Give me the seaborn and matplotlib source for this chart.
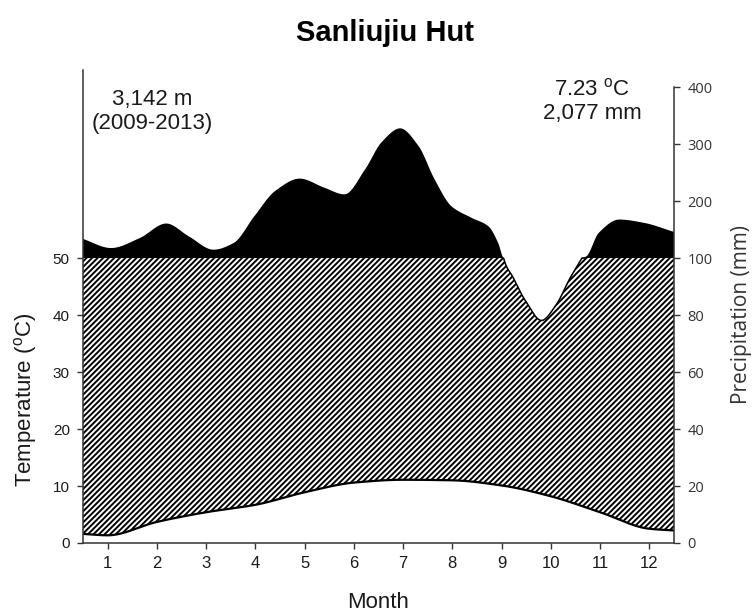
import numpy as np
import matplotlib
matplotlib.use("Agg")
import matplotlib.pyplot as plt
import seaborn as sns

# ---------------- data ----------------
title = "Sanliujiu Hut"
station_lines = ["3,142 m", "(2009-2013)"]
summary_lines = ["7.23 $^{\\mathrm{o}}$C", "2,077 mm"]
months = list(range(1, 13))
month_labels = [str(m) for m in months]

# temperature (deg C)
temp_x = [0.5, 1, 2, 3, 4, 5, 6, 7, 8, 9, 10, 11, 12, 12.5]
temp_c = [1.6, 1.35, 3.7, 5.4, 6.7, 8.9, 10.6, 11.1, 11.0, 10.1, 8.2, 5.4, 2.5, 2.2]

# precipitation (mm)
precip_x = [0.5, 1.07, 1.65, 2.19, 2.65, 3.15, 3.56, 3.98, 4.4, 4.9, 5.4, 5.81,
            6.23, 6.56, 6.94, 7.31, 7.64, 7.98, 8.39, 8.73, 8.93, 9.04, 9.23,
            9.48, 9.81, 10.1, 10.4, 10.63, 10.72, 10.97, 11.39, 11.89, 12.5]
precip_mm = [133.5, 117.6, 135, 160.6, 138, 114.7, 126.5, 173.5, 217.6, 239.4,
             223.5, 211.8, 255.9, 303, 327.6, 297, 238, 191, 170.6, 155.9, 126.5,
             100, 93.3, 85.1, 78.1, 83.4, 93.3, 100, 103, 144, 167.6, 161.8, 145.9]

temp_ticks = [0, 10, 20, 30, 40, 50]
precip_ticks = [0, 20, 40, 60, 80, 100, 200, 300, 400]


def smooth(x, y, n=1500):
    """Monotone cubic (Fritsch-Carlson) drawing of the read points."""
    x = np.asarray(x, float)
    y = np.asarray(y, float)
    h = np.diff(x)
    d = np.diff(y) / h
    m = np.zeros_like(y)
    for i in range(1, len(y) - 1):
        if d[i - 1] * d[i] > 0:
            w1 = 2 * h[i] + h[i - 1]
            w2 = h[i] + 2 * h[i - 1]
            m[i] = (w1 + w2) / (w1 / d[i - 1] + w2 / d[i])
    m[0] = d[0]
    m[-1] = d[-1]
    xs = np.linspace(x[0], x[-1], n)
    idx = np.clip(np.searchsorted(x, xs, side="right") - 1, 0, len(x) - 2)
    hh = x[idx + 1] - x[idx]
    t = (xs - x[idx]) / hh
    h00 = 2 * t**3 - 3 * t**2 + 1
    h10 = t**3 - 2 * t**2 + t
    h01 = -2 * t**3 + 3 * t**2
    h11 = t**3 - t**2
    ys = h00 * y[idx] + h10 * hh * m[idx] + h01 * y[idx + 1] + h11 * hh * m[idx + 1]
    return xs, ys


def mm_to_axis(p):
    p = np.asarray(p, float)
    return np.where(p <= 100, p / 2.0, 50 + (p - 100) / 10.0)


# ---------------- style ----------------
sns.set_style("ticks")
plt.rcParams["font.family"] = ["Liberation Sans", "DejaVu Sans"]
plt.rcParams["mathtext.fontset"] = "custom"
plt.rcParams["mathtext.rm"] = "Liberation Sans"
plt.rcParams["mathtext.it"] = "Liberation Sans:italic"
plt.rcParams["hatch.linewidth"] = 1.4
txt = "#1a1a1a"

fig = plt.figure(figsize=(7.56, 6.14), dpi=100)
ax = fig.add_axes([83 / 756, 1 - 543 / 614, 591 / 756, 473 / 614])

xs, ts = smooth(temp_x, temp_c)
_, ps = smooth(precip_x, precip_mm)
ps_ax = mm_to_axis(ps)

# hatched humid area (precipitation <= 100 mm part above temperature)
ax.fill_between(xs, ts, np.minimum(ps_ax, 50), where=ps_ax > ts, interpolate=True,
                facecolor="white", edgecolor="black", hatch="//////", linewidth=0)
# black area (precipitation > 100 mm)
ax.fill_between(xs, 50, ps_ax, where=ps_ax >= 50, interpolate=True,
                color="black", linewidth=0)
# outline of the precipitation curve where below 100 mm
ax.plot(xs, np.where(ps_ax < 50.3, np.minimum(ps_ax, 50), np.nan), color="black", lw=1.1)
# temperature line
sns.lineplot(x=xs, y=ts, color="black", linewidth=1.6, ax=ax)

ax.set_xlim(0.5, 12.5)
ax.set_ylim(0, 83)
ax.set_xticks(months)
ax.set_xticklabels(month_labels, fontsize=12, color=txt)
ax.set_yticks(temp_ticks)
ax.set_yticklabels([str(v) for v in temp_ticks], fontsize=11, color=txt)
ax.tick_params(axis="both", direction="out", length=4.5, width=1, color="#333333", pad=5)
for s in ["top", "right"]:
    ax.spines[s].set_visible(False)
for s in ["left", "bottom"]:
    ax.spines[s].set_linewidth(1.1)
    ax.spines[s].set_color("#333333")

ax.set_xlabel("Month", fontsize=16, color=txt, va="center")
ax.xaxis.set_label_coords(0.5, (543 - 603) / 473)
ax.set_ylabel("Temperature ($^{\\mathrm{o}}$C)", fontsize=16, color=txt, va="center")
ax.yaxis.set_label_coords((26 - 83) / 591, (543 - 400) / 473)

# right precipitation axis
ax2 = ax.twinx()
ax2.set_ylim(0, 83)
ax2.set_yticks(mm_to_axis(precip_ticks))
ax2.set_yticklabels([str(v) for v in precip_ticks], fontsize=10.5, color="#333333",
                    family="Open Sans")
ax2.tick_params(axis="y", direction="out", length=4.5, width=1, color="#333333", pad=5)
for s in ["top", "left", "bottom"]:
    ax2.spines[s].set_visible(False)
ax2.spines["right"].set_bounds(0, 80)
ax2.spines["right"].set_linewidth(1.1)
ax2.spines["right"].set_color("#333333")
ax2.set_ylabel("Precipitation (mm)", fontsize=15, color="#333333", family="Open Sans",
               va="center", rotation=90)
ax2.yaxis.set_label_coords((742 - 83) / 591, (543 - 314) / 473)

# annotations
ax.text((152 - 83) / 591, (543 - 100) / 473, station_lines[0], transform=ax.transAxes,
        ha="center", va="center", fontsize=16, color=txt)
ax.text((152 - 83) / 591, (543 - 124) / 473, station_lines[1], transform=ax.transAxes,
        ha="center", va="center", fontsize=16, color=txt)
ax.text((592 - 83) / 591, (543 - 89) / 473, summary_lines[0], transform=ax.transAxes,
        ha="center", va="center", fontsize=16, color=txt)
ax.text((592 - 83) / 591, (543 - 114) / 473, summary_lines[1], transform=ax.transAxes,
        ha="center", va="center", fontsize=16, color=txt)

fig.text(385 / 756, 1 - 33 / 614, title, ha="center", va="center", fontsize=21,
         fontweight="bold", color="black")

fig.savefig("out.png", dpi=100)
